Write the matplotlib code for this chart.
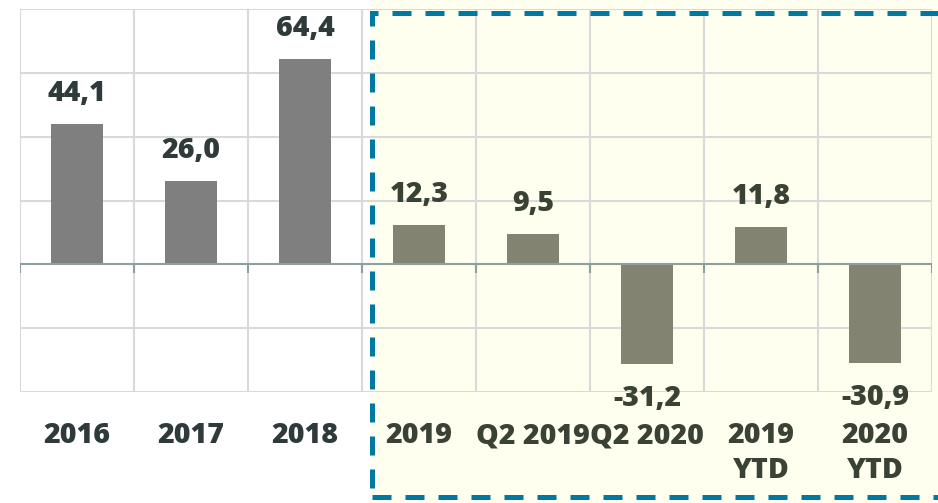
import matplotlib
matplotlib.use("Agg")
import matplotlib.pyplot as plt
from matplotlib.patches import Rectangle
from matplotlib.transforms import blended_transform_factory

# =========================
# DATA
# =========================
categories = ["2016", "2017", "2018", "2019", "Q2 2019", "Q2 2020",
              "2019\nYTD", "2020\nYTD"]
values = [44.1, 26.0, 64.4, 12.3, 9.5, -31.2, 11.8, -30.9]
value_labels = ["44,1", "26,0", "64,4", "12,3", "9,5", "-31,2", "11,8", "-30,9"]
highlight_start = 3  # first category in the highlighted box

# =========================
# STYLE
# =========================
plt.rcParams["font.family"] = ["Open Sans", "DejaVu Sans"]
plt.rcParams["font.weight"] = "bold"

grid_col = "#d9d9d9"
text_col = "#2f3a3a"
text_col_hl = "#3a4236"
bar_col = "#7f7f7f"
bar_col_hl = "#838372"
box_col = "#00789f"
fill_col = "#fffff0"
fsize = 20.5
fweight = 800

fig = plt.figure(figsize=(9.38, 5.03), dpi=100)
fig.patch.set_facecolor("white")
ax = fig.add_axes([20 / 938, 111 / 503, 912 / 938, 383 / 503])
ax.set_facecolor("none")

n = len(categories)
x = list(range(n))

# highlighted background (behind the grid)
trans = blended_transform_factory(ax.transData, fig.transFigure)
ax.add_patch(Rectangle((highlight_start - 0.42, 0), 20, 1, transform=trans,
                       facecolor=fill_col, edgecolor="none", zorder=0,
                       clip_on=False))

# bars
colors = [bar_col if i < highlight_start else bar_col_hl for i in x]
ax.bar(x, values, width=0.45, color=colors, zorder=2)

# value labels
for i, (v, lab) in enumerate(zip(values, value_labels)):
    off = 22 if v >= 0 else -25
    ax.annotate(lab, (i, v), xytext=(0, off), textcoords="offset points",
                ha="center", va="center", fontsize=fsize, fontweight=fweight,
                color=text_col if i < highlight_start else text_col_hl,
                annotation_clip=False, zorder=5)

# axes limits and grid
ax.set_xlim(-0.5, n - 0.5)
ax.set_ylim(-40, 80)
ax.set_yticks(range(-40, 81, 20))
ax.set_yticklabels([])
ax.set_xticks([i + 0.5 for i in range(-1, n)], minor=True)
ax.grid(True, which="minor", axis="x", color=grid_col, lw=1.5)
ax.grid(True, which="major", axis="y", color=grid_col, lw=1.5)
ax.set_axisbelow(True)
ax.tick_params(axis="y", length=0)
ax.tick_params(axis="x", which="both", length=0)
for s in ax.spines.values():
    s.set_visible(False)

# zero line with small tick marks
ax.axhline(0, color="#8ba1a1", lw=1.5, zorder=3)
ax.vlines([i + 0.5 for i in range(-1, n)], 0, -2.6, color="#8ba1a1",
          lw=1.5, zorder=3)

# category labels
ax.set_xticks(x)
ax.set_xticklabels(categories, fontsize=fsize, fontweight=fweight,
                   linespacing=1.25)
for i, t in enumerate(ax.get_xticklabels()):
    t.set_color(text_col if i < highlight_start else text_col_hl)
ax.tick_params(axis="x", which="major", pad=21)

# dashed box around the recent period
box = Rectangle((highlight_start - 0.41, 6 / 503), 20, 484 / 503,
                transform=trans, fill=False, edgecolor=box_col, lw=3.6,
                linestyle=(0, (3.8, 2.8)), zorder=6, clip_on=False)
ax.add_patch(box)

fig.savefig("out.png", dpi=100, facecolor=fig.get_facecolor())
